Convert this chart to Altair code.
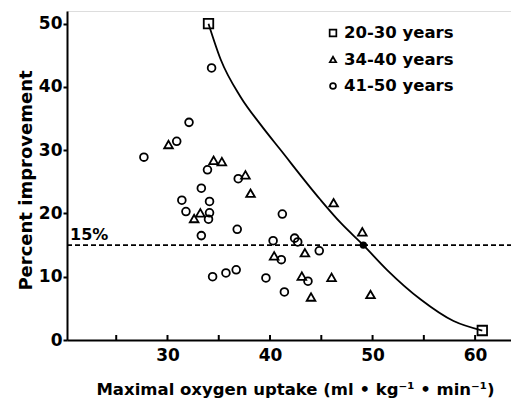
import altair as alt
import pandas as pd

# ---- data ----
groups = ["20-30 years", "34-40 years", "41-50 years"]
shapes = ["square", "triangle-up", "circle"]

sq_x = [34.0, 60.7]
sq_y = [50.0, 1.5]

tri_x = [30.1, 34.5, 35.3, 37.6, 38.1, 32.6, 33.2, 46.2, 49.0, 43.4, 40.4, 43.1, 46.0, 44.0, 49.8]
tri_y = [30.9, 28.4, 28.2, 26.1, 23.2, 19.2, 20.1, 21.7, 17.1, 13.8, 13.3, 10.1, 9.9, 6.8, 7.2]

cir_x = [27.7, 30.9, 32.1, 34.3, 33.9, 36.9, 33.3, 31.4, 34.1, 31.8, 34.1, 34.0, 33.3,
         36.8, 34.4, 35.7, 36.7, 41.2, 40.3, 42.4, 42.7, 44.8, 41.1, 39.6, 43.7, 41.4]
cir_y = [28.9, 31.4, 34.4, 43.0, 26.9, 25.5, 24.0, 22.1, 21.9, 20.3, 20.1, 19.1, 16.5,
         17.5, 10.0, 10.6, 11.1, 19.9, 15.7, 16.1, 15.5, 14.1, 12.7, 9.8, 9.3, 7.6]

curve_x = [34.0, 35.2, 37.1, 39.1, 41.0, 44.9, 46.9, 49.1, 51.4, 54.7, 57.9, 60.7]
curve_y = [50.0, 44.3, 38.5, 34.0, 30.1, 22.2, 18.5, 15.0, 11.1, 6.4, 3.0, 1.5]

cross_x = [49.1]
cross_y = [15.0]

threshold = 15
x_ticks = [25, 30, 35, 40, 45, 50, 55, 60]
x_labels = [30, 40, 50, 60]
y_ticks = [0, 10, 20, 30, 40, 50]

FONT = "DejaVu Sans"
W, H = 444, 329

pts = pd.DataFrame(
    [{"x": a, "y": b, "g": groups[0]} for a, b in zip(sq_x, sq_y)]
    + [{"x": a, "y": b, "g": groups[1]} for a, b in zip(tri_x, tri_y)]
    + [{"x": a, "y": b, "g": groups[2]} for a, b in zip(cir_x, cir_y)]
)
curve = pd.DataFrame({"x": curve_x, "y": curve_y})
cross = pd.DataFrame({"x": cross_x, "y": cross_y})
thr = pd.DataFrame({"y": [threshold], "label": ["15%"]})
xt = pd.DataFrame({"x": x_ticks})
leg = pd.DataFrame({"g": groups})

xscale = alt.Scale(domain=[20.2, 63.5], nice=False, zero=False)
yscale = alt.Scale(domain=[0, 52], nice=False)
shape_scale = alt.Scale(domain=groups, range=shapes)
leg_y = alt.Scale(domain=groups, range=[22, 75], type="point", padding=0)

xaxis = alt.Axis(values=x_labels, ticks=False, labelPadding=7, labelFontSize=17,
                 labelFontWeight="bold", labelFont=FONT, domainColor="black",
                 domainWidth=2, grid=False, labelColor="black",
                 title="Maximal oxygen uptake (ml • kg⁻¹ • min⁻¹)",
                 titleFont=FONT, titleFontSize=16.5, titleFontWeight="bold",
                 titlePadding=18, titleColor="black", titleX=228)
yaxis = alt.Axis(values=y_ticks, tickSize=4, tickWidth=2, tickColor="black",
                 labelPadding=1, labelFontSize=17, labelFontWeight="bold",
                 labelFont=FONT, domainColor="black", domainWidth=2, grid=False,
                 labelColor="black", title="Percent improvement", titleFont=FONT,
                 titleFontSize=18, titleFontWeight="bold", titlePadding=3,
                 titleColor="black", titleY=169)

base_pts = alt.Chart(pts).mark_point(filled=False, strokeWidth=1.8, color="black", opacity=1).encode(
    x=alt.X("x:Q", scale=xscale, axis=xaxis),
    y=alt.Y("y:Q", scale=yscale, axis=yaxis),
    shape=alt.Shape("g:N", scale=shape_scale, legend=None),
    size=alt.Size("g:N", scale=alt.Scale(domain=groups, range=[90, 60, 45]), legend=None),
)

leg_sym = alt.Chart(leg).mark_point(filled=False, strokeWidth=1.7, color="black", opacity=1).encode(
    x=alt.value(266),
    y=alt.Y("g:N", scale=leg_y, axis=None),
    shape=alt.Shape("g:N", scale=shape_scale, legend=None),
    size=alt.Size("g:N", scale=alt.Scale(domain=groups, range=[45, 35, 28]), legend=None),
)
leg_txt = alt.Chart(leg).mark_text(align="left", baseline="middle", font=FONT, fontSize=16.5,
                                   fontWeight="bold", color="black").encode(
    x=alt.value(277),
    y=alt.Y("g:N", scale=leg_y, axis=None),
    text="g:N",
)

line = alt.Chart(curve).mark_line(color="black", strokeWidth=1.8, interpolate="monotone").encode(
    x=alt.X("x:Q", scale=xscale), y=alt.Y("y:Q", scale=yscale))

dot = alt.Chart(cross).mark_point(filled=True, color="black", size=55, opacity=1).encode(
    x=alt.X("x:Q", scale=xscale), y=alt.Y("y:Q", scale=yscale))

dash = alt.Chart(thr).mark_rule(color="black", strokeWidth=1.6, strokeDash=[5, 3]).encode(
    y=alt.Y("y:Q", scale=yscale), x=alt.value(0), x2=alt.value(W))

lab = alt.Chart(thr).mark_text(align="left", baseline="bottom", dx=3, dy=-2, font=FONT,
                               fontSize=16, fontWeight="bold", color="black").encode(
    y=alt.Y("y:Q", scale=yscale), x=alt.value(0), text="label:N")

xt_rules = alt.Chart(xt).mark_rule(color="black", strokeWidth=2).encode(
    x=alt.X("x:Q", scale=xscale), y=alt.value(H - 5), y2=alt.value(H))

main = alt.layer(dash, lab, line, xt_rules, base_pts, dot)
legend = alt.layer(leg_sym, leg_txt)

chart = alt.layer(main, legend).resolve_scale(y="independent", shape="independent", size="independent").properties(
    width=W, height=H,
    autosize=alt.AutoSizeParams(type="none"),
    padding={"left": 67, "top": 11, "right": 0, "bottom": 59},
).configure_view(stroke=None).configure(background="white")

chart.save("out.html", embed_options={"renderer": "svg", "actions": False})
